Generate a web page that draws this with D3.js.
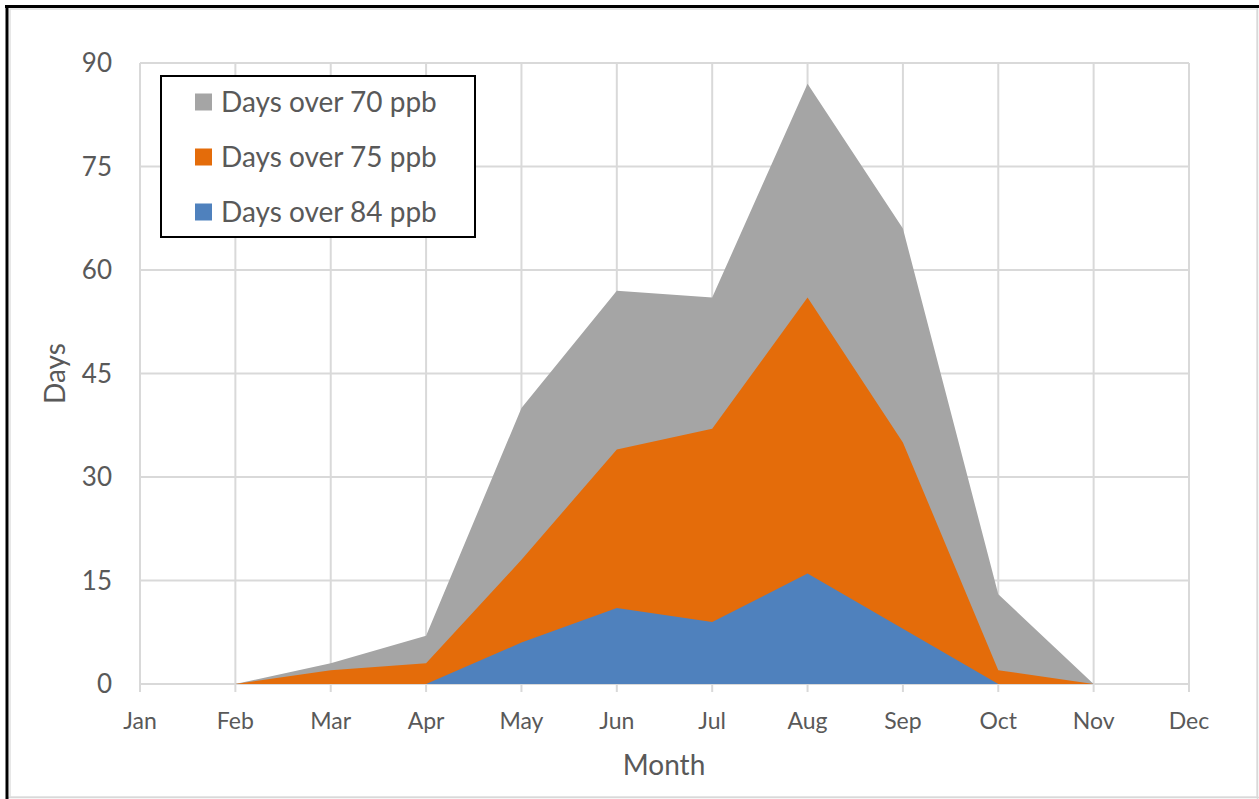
<!DOCTYPE html>
<html>
<head>
<meta charset="utf-8">
<script src="https://cdn.jsdelivr.net/npm/d3@7"></script>
<style>
  body { margin: 0; background: #fff; }
  text { font-family: Lato, "Noto Sans", sans-serif; fill: #595959; }
</style>
</head>
<body>
<div id="chart"></div>
<script>
// Chart data
const months = ["Jan", "Feb", "Mar", "Apr", "May", "Jun", "Jul", "Aug", "Sep", "Oct", "Nov", "Dec"];
const over70 = [null, 0, 3, 7, 40, 57, 56, 87, 66, 13, 0, null];
const over75 = [null, 0, 2, 3, 18, 34, 37, 56, 35, 2, 0, null];
const over84 = [null, 0, 0, 0, 6, 11, 9, 16, 8, 0, 0, null];
const yTicks = [0, 15, 30, 45, 60, 75, 90];

const seriesNames = ["Days over 70 ppb", "Days over 75 ppb", "Days over 84 ppb"];
const seriesValues = [over70, over75, over84];
const colors = ["#a5a5a5", "#e46c0a", "#4f81bd"];

const width = 1259;
const height = 799;

const svg = d3.select("#chart")
  .append("svg")
  .attr("width", width)
  .attr("height", height);

// Frame around the picture
svg.append("rect")
  .attr("x", 10).attr("y", 9)
  .attr("width", 1247).attr("height", 788)
  .attr("fill", "none").attr("stroke", "#e0e0e0").attr("stroke-width", 1.5);
svg.append("line").attr("x1", 1257.5).attr("x2", 1257.5).attr("y1", 6).attr("y2", 799)
  .attr("stroke", "#d9d9d9").attr("stroke-width", 1.5);
svg.append("line").attr("x1", 6).attr("x2", 1259).attr("y1", 797.5).attr("y2", 797.5)
  .attr("stroke", "#d9d9d9").attr("stroke-width", 1.5);
svg.append("line").attr("x1", 5).attr("x2", 1259).attr("y1", 6.5).attr("y2", 6.5)
  .attr("stroke", "#000").attr("stroke-width", 3);
svg.append("line").attr("x1", 7).attr("x2", 7).attr("y1", 5).attr("y2", 799)
  .attr("stroke", "#000").attr("stroke-width", 3);

const x = d3.scalePoint()
  .domain(months)
  .range([140, 1189]);

const y = d3.scaleLinear()
  .domain([0, 90])
  .range([684, 63]);

// Gridlines
svg.append("g")
  .selectAll("line")
  .data(yTicks)
  .enter()
  .append("line")
  .attr("x1", x("Jan"))
  .attr("x2", x("Dec"))
  .attr("y1", d => y(d))
  .attr("y2", d => y(d))
  .attr("stroke", "#d9d9d9")
  .attr("stroke-width", 2);

svg.append("g")
  .selectAll("line")
  .data(months)
  .enter()
  .append("line")
  .attr("x1", d => x(d))
  .attr("x2", d => x(d))
  .attr("y1", y(90))
  .attr("y2", y(0) + 8)
  .attr("stroke", "#d9d9d9")
  .attr("stroke-width", 2);

// Areas, drawn from zero and overlapping
const area = d3.area()
  .defined(d => d.v !== null)
  .x(d => x(d.m))
  .y0(y(0))
  .y1(d => y(d.v));

seriesValues.forEach((vals, i) => {
  svg.append("path")
    .datum(months.map((m, j) => ({ m: m, v: vals[j] })))
    .attr("d", area)
    .attr("fill", colors[i]);
});

// Axis labels
svg.append("g")
  .selectAll("text")
  .data(yTicks)
  .enter()
  .append("text")
  .attr("x", 112)
  .attr("y", d => y(d))
  .attr("dy", "0.35em")
  .attr("text-anchor", "end")
  .attr("font-size", "26px")
  .text(d => d);

svg.append("g")
  .selectAll("text")
  .data(months)
  .enter()
  .append("text")
  .attr("x", d => x(d))
  .attr("y", 729)
  .attr("text-anchor", "middle")
  .attr("font-size", "23px")
  .text(d => d);

svg.append("text")
  .attr("x", 664)
  .attr("y", 775)
  .attr("text-anchor", "middle")
  .attr("font-size", "28px")
  .text("Month");

svg.append("text")
  .attr("transform", `translate(65, ${(y(0) + y(90)) / 2}) rotate(-90)`)
  .attr("text-anchor", "middle")
  .attr("font-size", "28px")
  .text("Days");

// Legend
const legend = svg.append("g");
legend.append("rect")
  .attr("x", 161).attr("y", 76)
  .attr("width", 314).attr("height", 161)
  .attr("fill", "#fff")
  .attr("stroke", "#000")
  .attr("stroke-width", 2);

const rows = legend.selectAll("g.row")
  .data(seriesNames)
  .enter()
  .append("g")
  .attr("transform", (d, i) => `translate(0, ${102 + i * 55})`);

rows.append("rect")
  .attr("x", 195).attr("y", -8.5)
  .attr("width", 17).attr("height", 17)
  .attr("fill", (d, i) => colors[i]);

rows.append("text")
  .attr("x", 221)
  .attr("dy", "0.35em")
  .attr("font-size", "28px")
  .text(d => d);
</script>
</body>
</html>
